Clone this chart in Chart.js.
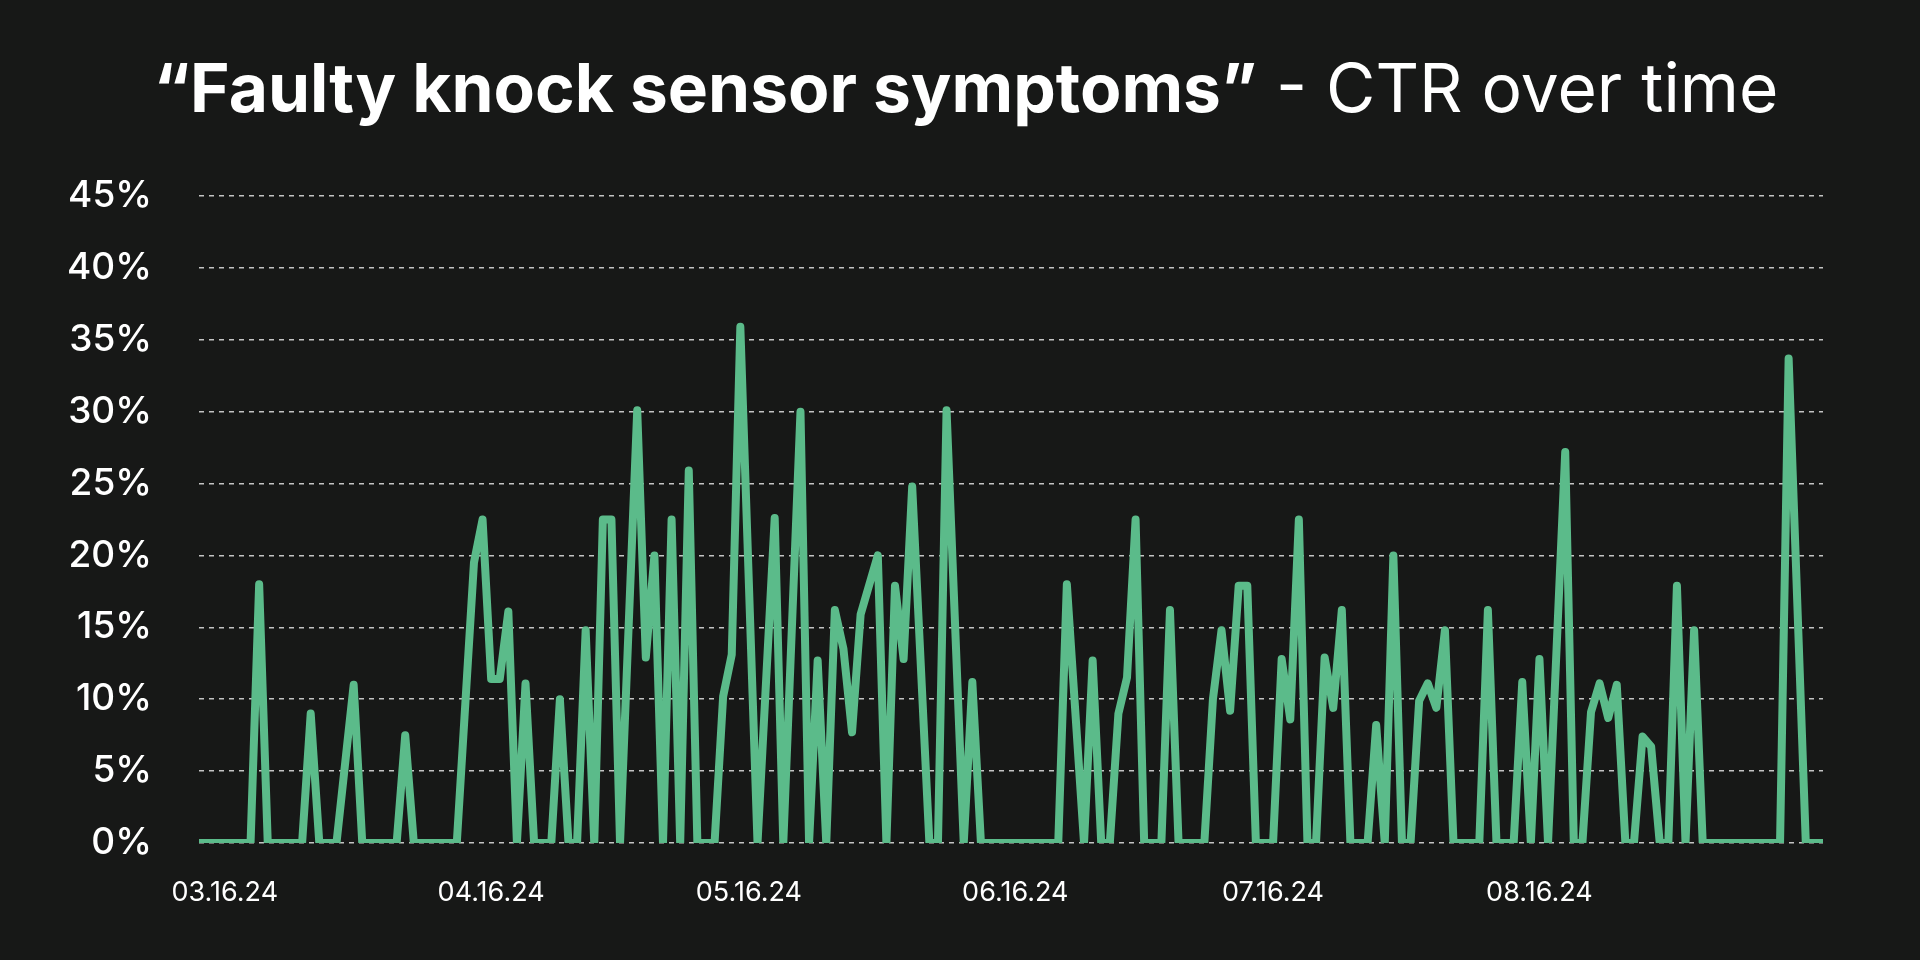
<!DOCTYPE html>
<html>
<head>
<meta charset="utf-8">
<title>Faulty knock sensor symptoms - CTR over time</title>
<script src="https://cdn.jsdelivr.net/npm/chart.js@4.4.1/dist/chart.umd.min.js"></script>
<style>
  html, body { margin: 0; padding: 0; background: #171817; width: 1920px; height: 960px; overflow: hidden; }
  #wrap { position: relative; width: 1920px; height: 960px; }
  #title { position: absolute; left: 6px; top: 54px; width: 1920px; text-align: center;
           font-family: Inter, "Noto Sans", sans-serif; font-size: 67.6px; line-height: 67px; color: #ffffff; white-space: nowrap; }
  #title b { font-weight: 700; }
  #title span { font-weight: 400; }
  canvas { position: absolute; left: 0; top: 0; }
</style>
</head>
<body>
<div id="wrap">
  <canvas id="c" width="1920" height="960"></canvas>
  <div id="title"><b id="tb"></b><span id="tr"></span></div>
</div>
<script>
// ---- text ----
const titleBold = '\u201cFaulty knock sensor symptoms\u201d';
const titleRest = ' - CTR over time';

// ---- categories: one per day ----
const categories = [
  '03.13.24','03.14.24','03.15.24','03.16.24','03.17.24','03.18.24','03.19.24','03.20.24','03.21.24','03.22.24',
  '03.23.24','03.24.24','03.25.24','03.26.24','03.27.24','03.28.24','03.29.24','03.30.24','03.31.24','04.01.24',
  '04.02.24','04.03.24','04.04.24','04.05.24','04.06.24','04.07.24','04.08.24','04.09.24','04.10.24','04.11.24',
  '04.12.24','04.13.24','04.14.24','04.15.24','04.16.24','04.17.24','04.18.24','04.19.24','04.20.24','04.21.24',
  '04.22.24','04.23.24','04.24.24','04.25.24','04.26.24','04.27.24','04.28.24','04.29.24','04.30.24','05.01.24',
  '05.02.24','05.03.24','05.04.24','05.05.24','05.06.24','05.07.24','05.08.24','05.09.24','05.10.24','05.11.24',
  '05.12.24','05.13.24','05.14.24','05.15.24','05.16.24','05.17.24','05.18.24','05.19.24','05.20.24','05.21.24',
  '05.22.24','05.23.24','05.24.24','05.25.24','05.26.24','05.27.24','05.28.24','05.29.24','05.30.24','05.31.24',
  '06.01.24','06.02.24','06.03.24','06.04.24','06.05.24','06.06.24','06.07.24','06.08.24','06.09.24','06.10.24',
  '06.11.24','06.12.24','06.13.24','06.14.24','06.15.24','06.16.24','06.17.24','06.18.24','06.19.24','06.20.24',
  '06.21.24','06.22.24','06.23.24','06.24.24','06.25.24','06.26.24','06.27.24','06.28.24','06.29.24','06.30.24',
  '07.01.24','07.02.24','07.03.24','07.04.24','07.05.24','07.06.24','07.07.24','07.08.24','07.09.24','07.10.24',
  '07.11.24','07.12.24','07.13.24','07.14.24','07.15.24','07.16.24','07.17.24','07.18.24','07.19.24','07.20.24',
  '07.21.24','07.22.24','07.23.24','07.24.24','07.25.24','07.26.24','07.27.24','07.28.24','07.29.24','07.30.24',
  '07.31.24','08.01.24','08.02.24','08.03.24','08.04.24','08.05.24','08.06.24','08.07.24','08.08.24','08.09.24',
  '08.10.24','08.11.24','08.12.24','08.13.24','08.14.24','08.15.24','08.16.24','08.17.24','08.18.24','08.19.24',
  '08.20.24','08.21.24','08.22.24','08.23.24','08.24.24','08.25.24','08.26.24','08.27.24','08.28.24','08.29.24',
  '08.30.24','08.31.24','09.01.24','09.02.24','09.03.24','09.04.24','09.05.24','09.06.24','09.07.24','09.08.24',
  '09.09.24','09.10.24','09.11.24','09.12.24','09.13.24','09.14.24','09.15.24','09.16.24','09.17.24','09.18.24'
];

// ---- CTR (%) per day (null = no data that day) ----
const ctr = [
  0, 0, 0, 0, 0, 0, 0, 18.0, 0, 0,
  0, 0, 0, 9.0, 0, 0, 0, null, 11.0, 0,
  0, 0, 0, 0, 7.5, 0, 0, 0, 0, 0,
  0, null, 19.5, 22.5, 11.4, 11.4, 16.1, 0, 11.1, 0,
  0, 0, 10.0, 0, 0, 14.8, 0, 22.5, 22.5, 0,
  null, 30.1, 12.9, 20.0, 0, 22.5, 0, 25.9, 0, 0,
  0, 10.2, 13.1, 35.9, null, 0, null, 22.6, 0, null,
  30.0, 0, 12.7, 0, 16.2, 13.5, 7.7, 15.9, null, 20.0,
  0, 17.9, 12.8, 24.8, null, 0, 0, 30.1, null, 0,
  11.2, 0, 0, 0, 0, 0, 0, 0, 0, 0,
  0, 18.0, null, 0, 12.7, 0, 0, 9.0, 11.5, 22.5,
  0, 0, 0, 16.2, 0, 0, 0, 0, 10.0, 14.8,
  9.2, 17.9, 17.9, 0, 0, 0, 12.8, 8.6, 22.5, 0,
  0, 12.9, 9.4, 16.2, 0, 0, 0, 8.2, 0, 20.0,
  0, 0, 9.9, 11.1, 9.4, 14.8, 0, 0, 0, 0,
  16.2, 0, 0, 0, 11.2, 0, 12.8, 0, null, 27.2,
  0, 0, 9.1, 11.1, 8.7, 11.0, 0, 0, 7.4, 6.7,
  0, 0, 17.9, 0, 14.8, 0, 0, 0, 0, 0,
  0, 0, 0, 0, 0, 33.7, null, 0, 0, 0
];

// ---- tick labels ----
const xTickLabels = ['03.16.24','04.16.24','05.16.24','06.16.24','07.16.24','08.16.24'];
const yTickValues = [0, 5, 10, 15, 20, 25, 30, 35, 40, 45];

document.getElementById('tb').textContent = titleBold;
document.getElementById('tr').textContent = titleRest;

const FONT = 'Inter, "Noto Sans", sans-serif';

new Chart(document.getElementById('c'), {
  type: 'line',
  data: {
    labels: categories,
    datasets: [{
      label: 'CTR',
      data: ctr,
      borderColor: '#5bbb8a',
      backgroundColor: '#5bbb8a',
      borderWidth: 8,
      borderJoinStyle: 'round',
      borderCapStyle: 'butt',
      pointRadius: 0,
      pointHoverRadius: 0,
      tension: 0,
      spanGaps: true,
      fill: false
    }]
  },
  options: {
    responsive: false,
    animation: false,
    events: [],
    layout: { padding: { top: 196, right: 97, left: 0, bottom: 0 } },
    plugins: { legend: { display: false }, tooltip: { enabled: false }, title: { display: false } },
    scales: {
      x: {
        type: 'category',
        offset: false,
        grid: { display: false, drawTicks: false },
        border: { display: false },
        ticks: {
          autoSkip: false,
          maxRotation: 0,
          minRotation: 0,
          padding: 34,
          color: '#ffffff',
          font: { family: FONT, size: 27, weight: 400 },
          callback: function (value) {
            const lab = this.getLabelForValue(value);
            return xTickLabels.includes(lab) ? lab : '';
          }
        },
        afterFit: function (scale) { scale.height = 117; }
      },
      y: {
        min: 0,
        max: 45,
        afterBuildTicks: function (scale) { scale.ticks = yTickValues.map(v => ({ value: v })); },
        grid: { color: 'rgba(215,215,215,0.9)', lineWidth: 1.5, drawTicks: false },
        border: { display: false, dash: [5, 5] },
        ticks: {
          padding: 47,
          color: '#ffffff',
          font: { family: FONT, size: 37, weight: 500 },
          callback: function (v) { return v + '%'; }
        },
        afterFit: function (scale) { scale.width = 199; }
      }
    }
  }
});
</script>
</body>
</html>
